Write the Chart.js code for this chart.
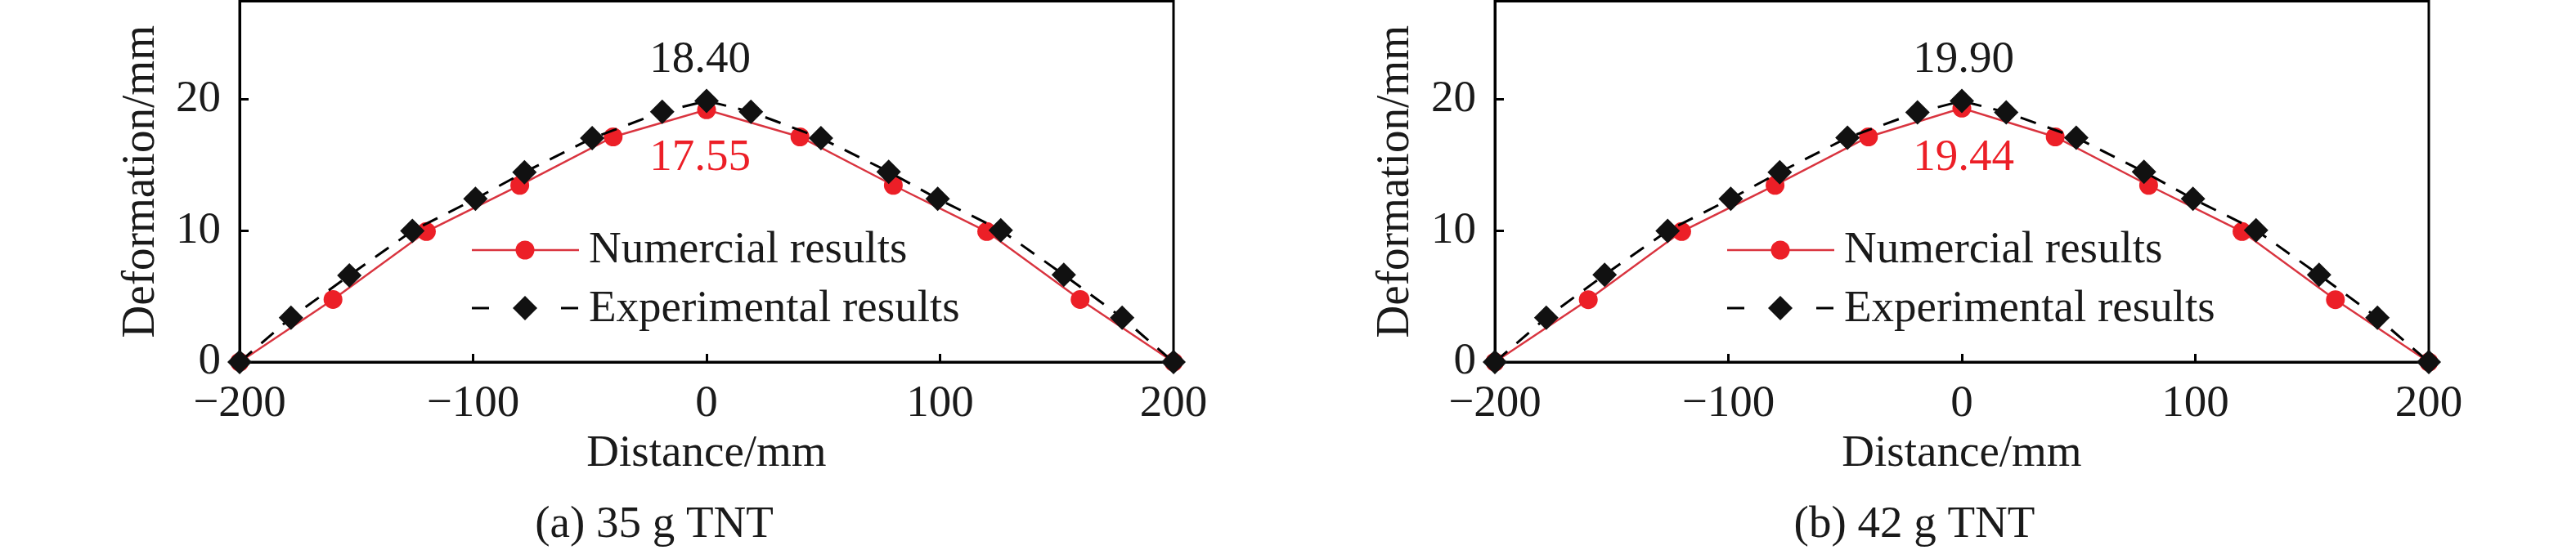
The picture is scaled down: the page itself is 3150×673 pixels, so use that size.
<!DOCTYPE html>
<html>
<head>
<meta charset="utf-8">
<title>Deformation vs distance</title>
<script src="https://cdn.jsdelivr.net/npm/chart.js@4.4.1/dist/chart.umd.min.js"></script>
<style>
  html, body { margin: 0; padding: 0; background: #fff; }
  #wrap { position: relative; width: 3150px; height: 673px; }
  .panel { position: absolute; top: 0; width: 1575px; height: 673px; }
</style>
</head>
<body>
<div id="wrap">
  <div class="panel" style="left:0"><canvas id="chartA" width="1575" height="673"></canvas></div>
  <div class="panel" style="left:1575px"><canvas id="chartB" width="1575" height="673"></canvas></div>
</div>
<script>
// values
const numDistance = [-200, -160, -120, -80, -40, 0, 40, 80, 120, 160, 200];
const numDeformA  = [0, 4.77, 9.95, 13.47, 17.16, 19.23, 17.16, 13.47, 9.95, 4.77, 0];
const numDeformB  = [0, 4.75, 9.95, 13.47, 17.16, 19.35, 17.16, 13.47, 9.95, 4.75, 0];

const expDistance = [-200, -178, -153, -126, -99, -78, -49, -19, 0, 19, 49, 78, 99, 126, 153, 178, 200];
const expDeformA  = [0, 3.38, 6.6, 10.0, 12.44, 14.47, 17.06, 19.07, 19.9, 19.07, 17.06, 14.5, 12.44, 10.05, 6.65, 3.38, 0];
const expDeformB  = [0, 3.38, 6.65, 10.0, 12.44, 14.47, 17.1, 19.03, 19.9, 19.03, 17.1, 14.5, 12.44, 10.05, 6.65, 3.38, 0];

const xTicks = [-200, -100, 0, 100, 200];
const yTicks = [0, 10, 20];

const seriesNames = ['Numercial results', 'Experimental results'];
const peakLabelsA = ['18.40', '17.55'];
const peakLabelsB = ['19.90', '19.44'];
const captions = ['(a) 35 g TNT', '(b) 42 g TNT'];
const xTitle = 'Distance/mm';
const yTitle = 'Deformation/mm';

const FONT = '"Liberation Serif", "Times New Roman", serif';
const TXT = '#1a1a1a';
const RED_DOT = '#ec1f27';
const RED_LINE = '#d9343f';

// extra drawing: frame, y title, legend, peak values, caption
const decorPlugin = {
    id: 'decor',
    beforeDatasetsDraw(chart) {
        const a = chart.chartArea;
        const ctx = chart.ctx;
        ctx.save();
        ctx.strokeStyle = '#000';
        ctx.lineWidth = 3;
        ctx.strokeRect(a.left, a.top, a.right - a.left, a.bottom - a.top);
        ctx.restore();
    },
    afterDraw(chart) {
        const cfg = chart.options.plugins.decor;
        const a = chart.chartArea;
        const ctx = chart.ctx;
        const L = a.left;

        // y axis title, a bit taller than the rest
        ctx.save();
        ctx.translate(cfg.yTitleX, (a.top + a.bottom) / 2);
        ctx.rotate(-Math.PI / 2);
        ctx.scale(0.95, 1);
        ctx.font = '58px ' + FONT;
        ctx.fillStyle = TXT;
        ctx.textAlign = 'center';
        ctx.textBaseline = 'alphabetic';
        ctx.fillText(yTitle, 0, 0);
        ctx.restore();

        ctx.save();
        ctx.font = '55px ' + FONT;
        ctx.textBaseline = 'alphabetic';

        // legend row 1
        ctx.strokeStyle = RED_LINE;
        ctx.lineWidth = 2.5;
        ctx.beginPath();
        ctx.moveTo(L + 284, 306);
        ctx.lineTo(L + 415, 306);
        ctx.stroke();
        ctx.fillStyle = RED_DOT;
        ctx.beginPath();
        ctx.arc(L + 349, 306, 11.5, 0, Math.PI * 2);
        ctx.fill();

        // legend row 2
        ctx.strokeStyle = '#000';
        ctx.lineWidth = 3;
        ctx.beginPath();
        ctx.moveTo(L + 284, 377); ctx.lineTo(L + 305, 377);
        ctx.moveTo(L + 393, 377); ctx.lineTo(L + 414, 377);
        ctx.stroke();
        ctx.fillStyle = '#111';
        ctx.beginPath();
        ctx.moveTo(L + 349 - 15, 377);
        ctx.lineTo(L + 349, 377 - 15);
        ctx.lineTo(L + 349 + 15, 377);
        ctx.lineTo(L + 349, 377 + 15);
        ctx.closePath();
        ctx.fill();

        ctx.fillStyle = TXT;
        ctx.textAlign = 'left';
        ctx.fillText(seriesNames[0], L + 427, 321);
        ctx.fillText(seriesNames[1], L + 427, 393);

        // peak values
        const x0 = chart.scales.x.getPixelForValue(0) + cfg.peakDx;
        ctx.textAlign = 'center';
        ctx.fillStyle = TXT;
        ctx.fillText(cfg.peaks[0], x0, 88);
        ctx.fillStyle = RED_DOT;
        ctx.fillText(cfg.peaks[1], x0, 208);

        // caption
        ctx.fillStyle = TXT;
        ctx.fillText(cfg.caption, (a.left + a.right) / 2 + cfg.capDx, 657);
        ctx.restore();
    }
};

function noPad(s) {
    s.paddingTop = 0;
    s.paddingBottom = 0;
    s.paddingLeft = 0;
    s.paddingRight = 0;
}

function makeChart(id, numY, expY, cfg) {
    const ctx = document.getElementById(id);
    return new Chart(ctx, {
        type: 'line',
        data: {
            datasets: [{
                label: seriesNames[0],
                data: numDistance.map((x, i) => ({ x: x, y: numY[i] })),
                borderColor: RED_LINE,
                borderWidth: 2.5,
                pointStyle: 'circle',
                pointRadius: 11.5,
                pointBorderWidth: 0,
                pointBackgroundColor: RED_DOT,
                fill: false,
                tension: 0,
                clip: false,
                order: 2
            }, {
                label: seriesNames[1],
                data: expDistance.map((x, i) => ({ x: x, y: expY[i] })),
                borderColor: '#000',
                borderWidth: 3,
                borderDash: [20, 15],
                pointStyle: 'rectRot',
                pointRadius: 15,
                pointBorderWidth: 0,
                pointBackgroundColor: '#111',
                fill: false,
                tension: 0,
                clip: false,
                order: 1
            }]
        },
        options: {
            responsive: false,
            animation: false,
            devicePixelRatio: 1,
            layout: {
                autoPadding: false,
                padding: { left: 0, right: cfg.padRight, top: 1.5, bottom: 0 }
            },
            plugins: {
                legend: { display: false },
                tooltip: { enabled: false },
                decor: cfg
            },
            scales: {
                x: {
                    type: 'linear',
                    min: -200,
                    max: 200,
                    afterBuildTicks: s => { s.ticks = xTicks.map(v => ({ value: v })); },
                    afterFit: s => { s.height = 230; noPad(s); },
                    grid: { drawOnChartArea: false, color: '#000', lineWidth: 3, tickLength: -10 },
                    border: { color: '#000', width: 3 },
                    ticks: {
                        padding: 29,
                        color: TXT,
                        maxRotation: 0,
                        autoSkip: false,
                        font: { family: FONT, size: 55 },
                        callback: v => String(v).replace('-', '\u2212')
                    },
                    title: {
                        display: true,
                        text: xTitle,
                        color: TXT,
                        font: { family: FONT, size: 55 },
                        padding: { top: 0, bottom: 84 }
                    }
                },
                y: {
                    min: 0,
                    max: 27.5,
                    afterBuildTicks: s => { s.ticks = yTicks.map(v => ({ value: v })); },
                    afterFit: s => { s.width = cfg.yWidth; noPad(s); },
                    grid: { drawOnChartArea: false, color: '#000', lineWidth: 3, tickLength: -11 },
                    border: { color: '#000', width: 3 },
                    ticks: {
                        padding: 34,
                        color: TXT,
                        font: { family: FONT, size: 55 }
                    },
                    title: { display: false }
                }
            }
        },
        plugins: [decorPlugin]
    });
}

makeChart('chartA', numDeformA, expDeformA, {
    yWidth: 293, padRight: 140, yTitleX: 188,
    peaks: peakLabelsA, peakDx: -8, caption: captions[0], capDx: -64
});
makeChart('chartB', numDeformB, expDeformB, {
    yWidth: 253, padRight: 180, yTitleX: 147,
    peaks: peakLabelsB, peakDx: 2, caption: captions[1], capDx: -58
});
</script>
</body>
</html>
